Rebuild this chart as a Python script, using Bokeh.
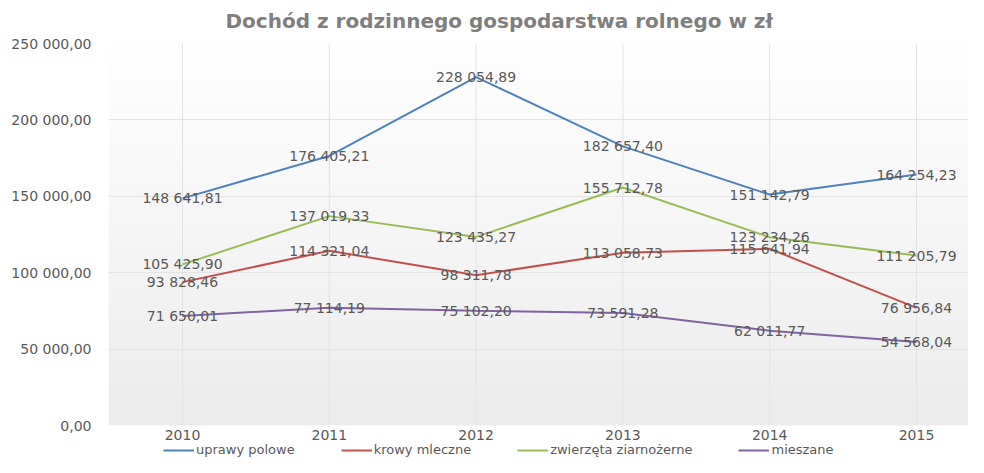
import numpy as np
from bokeh.plotting import figure
from bokeh.models import (Range1d, FixedTicker, Legend, LegendItem, ColumnDataSource)
from bokeh.core.properties import value
from bokeh.embed import file_html
from bokeh.resources import INLINE

years = [2010, 2011, 2012, 2013, 2014, 2015]
series_names = ["uprawy polowe", "krowy mleczne", "zwierzęta ziarnożerne", "mieszane"]
uprawy_polowe = [148641.81, 176405.21, 228054.89, 182657.40, 151142.79, 164254.23]
krowy_mleczne = [93828.46, 114321.04, 98311.78, 113058.73, 115641.94, 76956.84]
zwierzeta_ziarnozerne = [105425.90, 137019.33, 123435.27, 155712.78, 123234.26, 111205.79]
mieszane = [71650.01, 77114.19, 75102.20, 73591.28, 62011.77, 54568.04]
y_ticks = [0, 50000, 100000, 150000, 200000, 250000]
y_tick_labels = ["0,00", "50 000,00", "100 000,00", "150 000,00", "200 000,00", "250 000,00"]
colors = ["#4F81BD", "#C0504D", "#9BBB59", "#8064A2"]
title_text = "Dochód z rodzinnego gospodarstwa rolnego w zł"

FONT = "DejaVu Sans"
GRAY = "#595959"
GRID = "#E3E3E3"


def pl(v):
    return f"{v:,.2f}".replace(",", " ").replace(".", ",")


W, H = 968, 457
LEFT, TOP, ZERO_Y = 108, 43, 425          # canvas px of frame left, 250000 line, 0 line
YMAX = y_ticks[-1]
px_per_unit = (ZERO_Y - TOP) / YMAX
Y0 = -(H - ZERO_Y) / px_per_unit          # frame extends below 0 to hold axis labels + legend
X0 = years[0] - 74 / 146.8
X1 = X0 + (W - LEFT) / 146.8

p = figure(width=W, height=H, output_backend="svg", toolbar_location=None,
           x_range=Range1d(X0, X1), y_range=Range1d(Y0, YMAX),
           min_border_left=LEFT, min_border_right=0, min_border_top=TOP, min_border_bottom=0)

p.title.text = title_text
p.title.text_font = FONT
p.title.text_font_size = "20px"
p.title.text_font_style = "bold"
p.title.text_color = "#7F7F7F"
p.title.align = "left"
p.title.offset = 117
p.title.vertical_align = "top"
p.title.standoff = 17

# background gradient (plot area only, 0..max)
n = 200
t = np.linspace(0, 1, n)  # 0 bottom -> 1 top
top = np.array([255, 255, 255])
bot = np.array([236, 236, 236])
cols = (bot[None, :] + (top - bot)[None, :] * t[:, None]).astype(np.uint32)
img = np.empty((n, 1), dtype=np.uint32)
view = img.view(dtype=np.uint8).reshape((n, 1, 4))
view[:, 0, 0] = cols[:, 0]
view[:, 0, 1] = cols[:, 1]
view[:, 0, 2] = cols[:, 2]
view[:, 0, 3] = 255
p.image_rgba(image=[img], x=X0, y=0, dw=X1 - X0, dh=YMAX, level="image")

p.background_fill_color = "white"
p.border_fill_color = "white"
p.outline_line_color = None

# grid
p.xgrid.visible = False
p.ygrid.ticker = FixedTicker(ticks=y_ticks[1:])
p.ygrid.grid_line_color = GRID
p.ygrid.level = "underlay"
p.segment(x0=years, y0=[0] * len(years), x1=years, y1=[YMAX] * len(years),
          line_color=GRID, line_width=1)

p.xaxis.ticker = FixedTicker(ticks=years)
p.xaxis.fixed_location = 0
p.yaxis.ticker = FixedTicker(ticks=y_ticks)
p.yaxis.major_label_overrides = {t_: l for t_, l in zip(y_ticks, y_tick_labels)}
for ax in (p.xaxis, p.yaxis):
    ax.axis_line_color = None
    ax.major_tick_line_color = None
    ax.minor_tick_line_color = None
    ax.major_tick_out = 0
    ax.major_tick_in = 0
    ax.major_label_text_font = FONT
    ax.major_label_text_font_size = "14px"
    ax.major_label_text_color = GRAY
p.yaxis.major_label_standoff = 17
p.xaxis.major_label_standoff = 4

all_series = [uprawy_polowe, krowy_mleczne, zwierzeta_ziarnozerne, mieszane]
items = []
for name, vals, c in zip(series_names, all_series, colors):
    r = p.line(years, vals, line_color=c, line_width=2)
    items.append(LegendItem(label=name, renderers=[r]))

for vals in all_series:
    src = ColumnDataSource(dict(x=years, y=vals, t=[pl(v) for v in vals]))
    p.text(x="x", y="y", text="t", source=src, text_font=value(FONT), text_font_size="14px",
           text_color=GRAY, text_align="center", text_baseline="middle")

legend = Legend(items=items, orientation="horizontal", location=(55, 0),
                border_line_color=None, background_fill_alpha=0,
                label_text_font=FONT, label_text_font_size="13px", label_text_color=GRAY,
                glyph_width=31, glyph_height=14, label_height=14, label_standoff=2,
                spacing=46, padding=0, margin=0)
p.add_layout(legend, "center")

open("out.html", "w").write(file_html(p, INLINE))
